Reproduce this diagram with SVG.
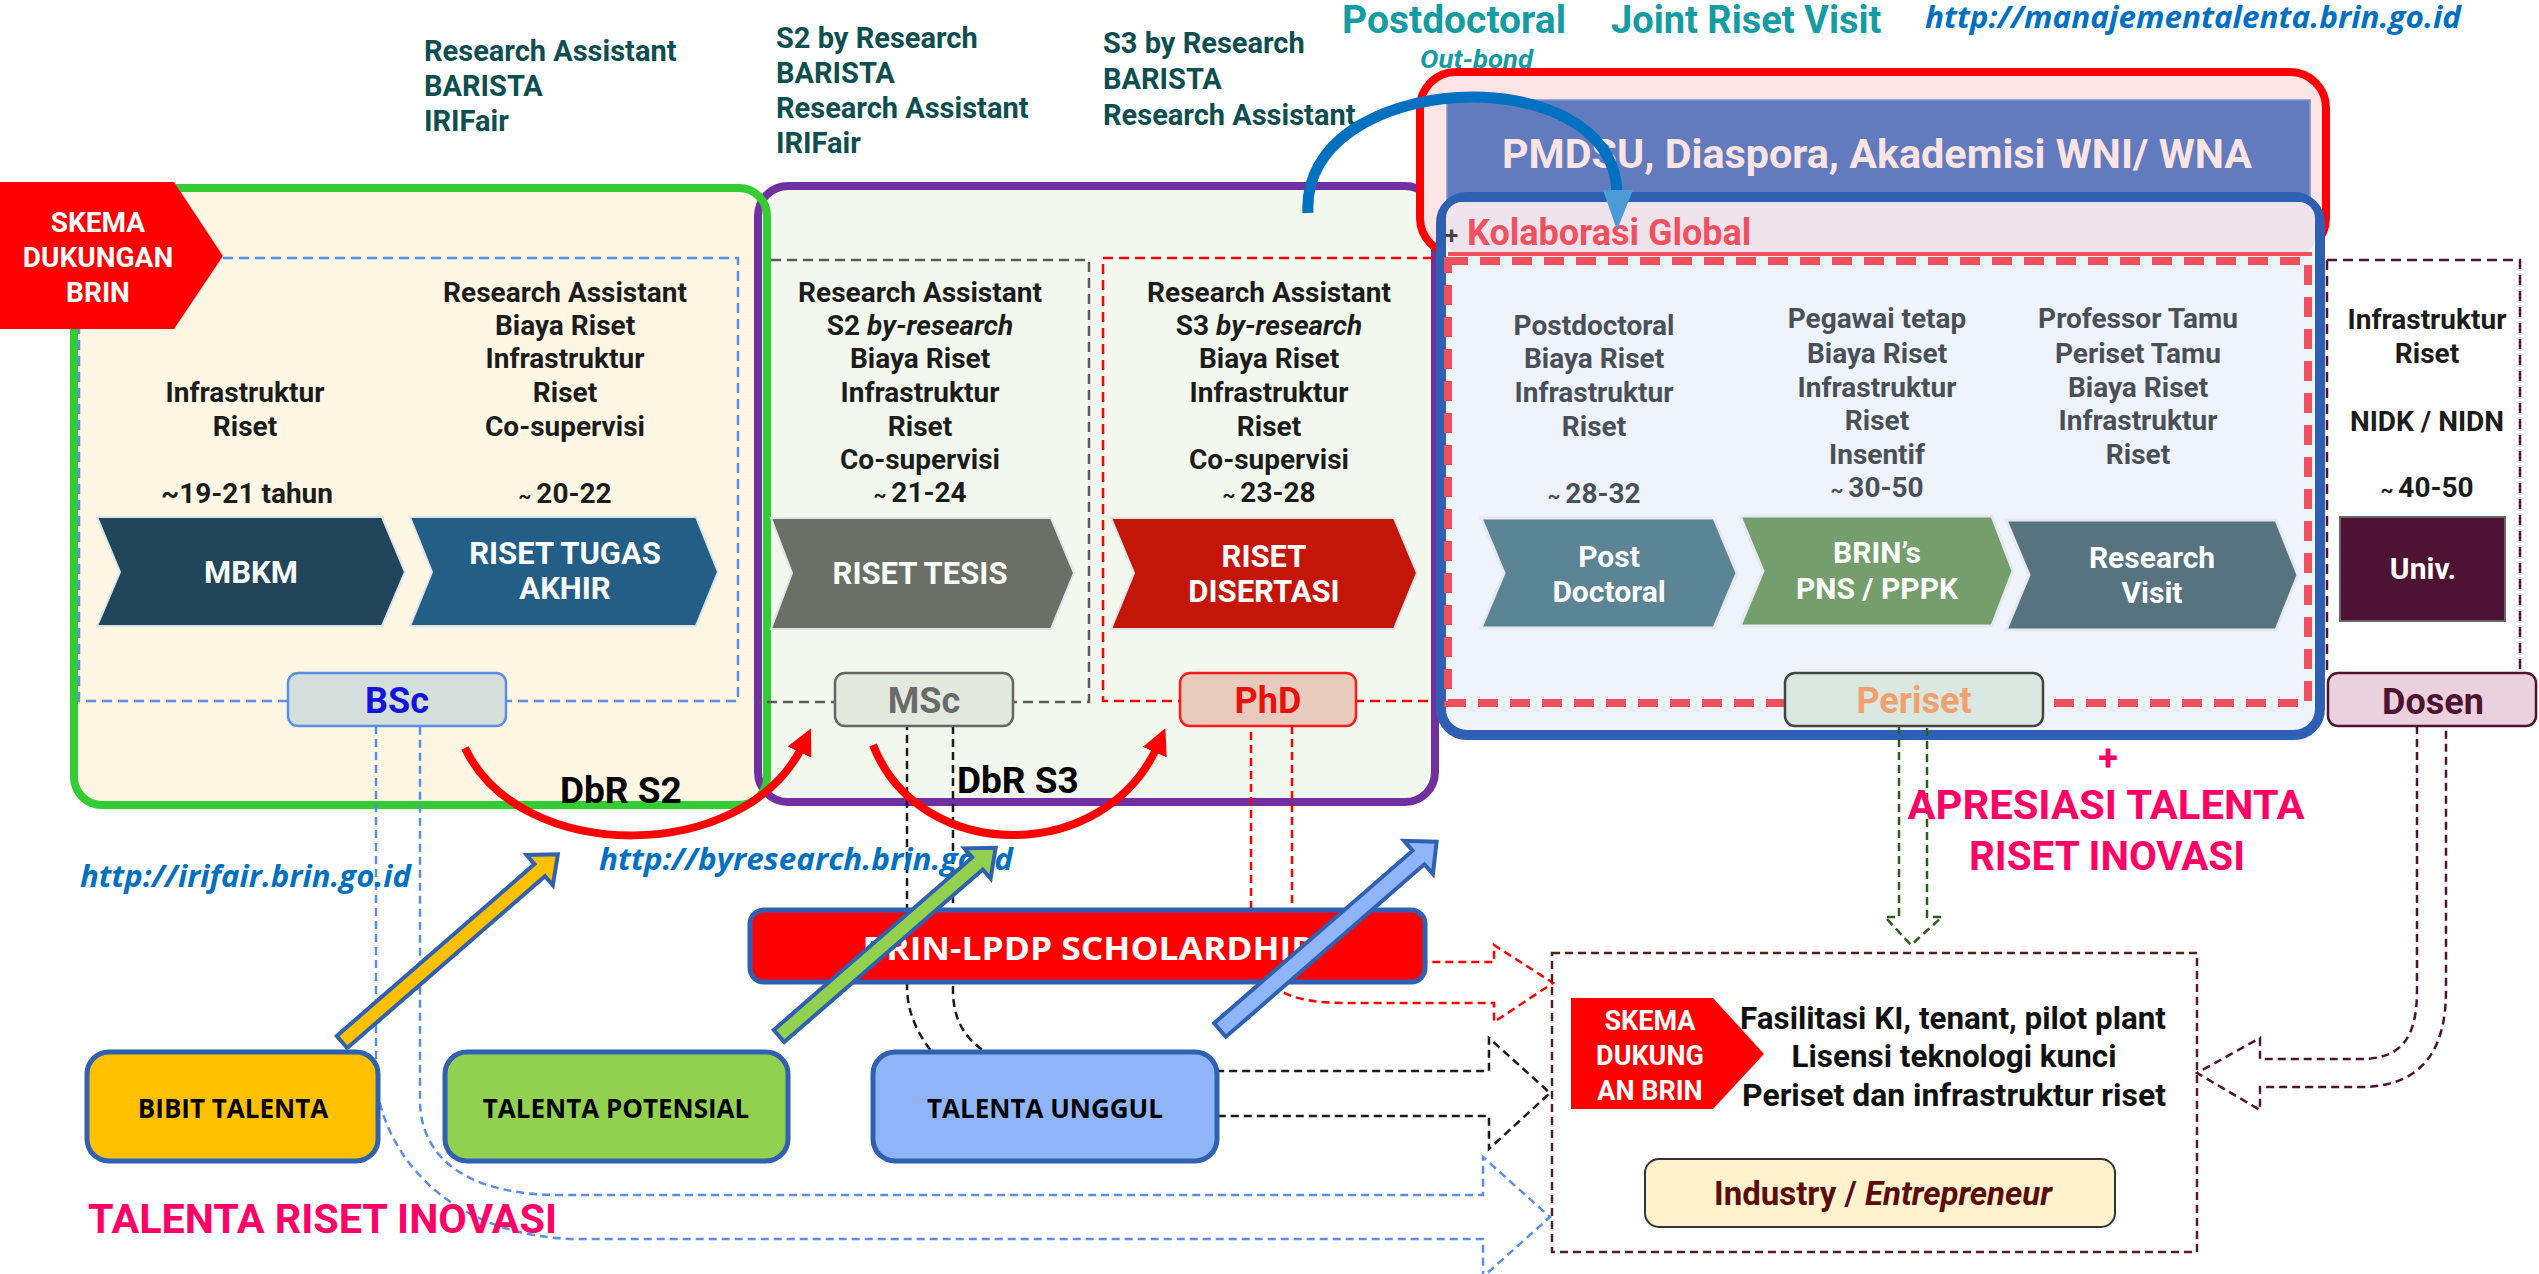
<svg xmlns="http://www.w3.org/2000/svg" width="2539" height="1274" viewBox="0 0 2539 1274">
<defs>
<style>
.t{font-family:Roboto,"Liberation Sans",sans-serif;font-weight:700}
.c{text-anchor:middle}
.k{fill:#1c1c1c;font-size:28px}
.g{fill:#4a5058;font-size:28px}
.teal{fill:#0d4e50;font-size:29px}
.w{fill:#ffffff}
.cv{font-size:31px}
.os{font-family:"Open Sans","Liberation Sans",sans-serif;font-weight:700}
.url{font-family:"Open Sans","Liberation Sans",sans-serif;font-weight:700;font-style:italic;fill:#0070c0}
.deg{font-size:36px}
.pink{fill:#ff0066;font-size:41px}
.dl{fill:none;stroke-width:2.5;stroke-dasharray:10 6}
.hd{fill:none;stroke-width:2.5;stroke-dasharray:8 5}
.talent{stroke:#3060b0;stroke-width:5}
.diag{stroke:#3060b0;stroke-width:4;stroke-linejoin:miter}
.chev{stroke:#dfe4ea;stroke-width:2}
.chev2{stroke:#e6eaf0;stroke-width:3}
</style>
<marker id="ah" viewBox="0 0 10 10" refX="3" refY="5" markerWidth="26" markerHeight="26" markerUnits="userSpaceOnUse" orient="auto">
<path d="M0,0 L10,5 L0,10 z" fill="#ff0000"/>
</marker>
</defs>
<rect width="2539" height="1274" fill="#ffffff"/>

<!-- containers -->
<g id="bsc-group">
<rect x="74" y="188" width="693" height="617" rx="28" fill="#fff6e4"/>
</g>
<g id="msc-group">
<rect x="758" y="186" width="677" height="616" rx="30" fill="#f3f8ee" stroke="#7030a0" stroke-width="8"/>
</g>
<g id="bsc-border">
<rect x="74" y="188" width="693" height="617" rx="28" fill="none" stroke="#33cc33" stroke-width="8"/>
</g>
<g id="pmdsu">
<rect x="1420" y="72" width="906" height="182" rx="36" fill="#fde5e5" stroke="#ff0000" stroke-width="8"/>
<rect x="1447" y="100" width="863" height="110" fill="#627bbf" stroke="#7d93d0" stroke-width="1.5"/>
<text class="t c" x="1877" y="168" font-size="40" fill="#fde4e4" textLength="750" lengthAdjust="spacingAndGlyphs">PMDSU, Diaspora, Akademisi WNI/ WNA</text>
</g>
<g id="periset-group">
<rect x="1441" y="197" width="879" height="538" rx="26" fill="#eef3fc" stroke="#2f5fb3" stroke-width="10"/>
<rect x="1446" y="202" width="869" height="52" rx="16" fill="#f0e4ec"/>
<line x1="1448" y1="254" x2="2312" y2="254" stroke="#f0505e" stroke-width="4"/>
<text class="t" x="1445" y="244" font-size="24" fill="#444">+</text>
<text class="t" x="1467" y="245" font-size="36" fill="#f0505f">Kolaborasi Global</text>
<rect x="1448" y="261" width="860" height="442" fill="none" stroke="#f0505e" stroke-width="8" stroke-dasharray="20 12"/>
</g>

<!-- inner dashed frames -->
<g id="frames">
<rect x="79" y="258" width="659" height="443" class="dl" stroke="#5b8ee6"/>
<path d="M771,260 H1089 V702 H759" class="dl" stroke="#5a5a5a"/>
<path d="M1433,258 H1103 V701 H1433" class="dl" stroke="#ff0000"/>
<path d="M2327,260 H2520 V673 M2327,260 V673" class="dl" stroke="#4e1232"/>
</g>

<!-- top labels -->
<g id="top-labels" class="t">
<text class="teal" x="424" y="61">Research Assistant</text>
<text class="teal" x="424" y="96">BARISTA</text>
<text class="teal" x="424" y="131">IRIFair</text>
<text class="teal" x="776" y="48">S2 by Research</text>
<text class="teal" x="776" y="83">BARISTA</text>
<text class="teal" x="776" y="118">Research Assistant</text>
<text class="teal" x="776" y="153">IRIFair</text>
<text class="teal" x="1103" y="53">S3 by Research</text>
<text class="teal" x="1103" y="89">BARISTA</text>
<text class="teal" x="1103" y="125">Research Assistant</text>
<text x="1342" y="33" font-size="39" fill="#159ca3">Postdoctoral</text>
<text x="1420" y="68" font-size="26" font-style="italic" fill="#159ca3" textLength="113" lengthAdjust="spacingAndGlyphs">Out-bond</text>
<text x="1611" y="33" font-size="38" fill="#159ca3">Joint Riset Visit</text>
</g>
<text class="url" x="1925" y="28" font-size="31" textLength="536" lengthAdjust="spacingAndGlyphs">http://manajementalenta.brin.go.id</text>

<!-- SKEMA left -->
<g id="skema-brin">
<polygon points="0,182 174,182 223,256 174,329 0,329" fill="#ff0000"/>
<text class="t c w" x="98" y="232" font-size="28">SKEMA</text>
<text class="t c w" x="98" y="267" font-size="28">DUKUNGAN</text>
<text class="t c w" x="98" y="302" font-size="28">BRIN</text>
</g>

<!-- column texts -->
<g id="col-mbkm" class="t c k">
<text x="245" y="402">Infrastruktur</text>
<text x="245" y="436">Riset</text>
<text x="247" y="503">~19-21 tahun</text>
</g>
<g id="col-rta" class="t c k">
<text x="565" y="302">Research Assistant</text>
<text x="565" y="335">Biaya Riset</text>
<text x="565" y="368">Infrastruktur</text>
<text x="565" y="402">Riset</text>
<text x="565" y="436">Co-supervisi</text>
<text x="565" y="503"><tspan font-size="20">~ </tspan>20-22</text>
</g>
<g id="col-tesis" class="t c k">
<text x="920" y="302">Research Assistant</text>
<text x="920" y="335">S2 <tspan font-style="italic">by-research</tspan></text>
<text x="920" y="368">Biaya Riset</text>
<text x="920" y="402">Infrastruktur</text>
<text x="920" y="436">Riset</text>
<text x="920" y="469">Co-supervisi</text>
<text x="920" y="502"><tspan font-size="20">~ </tspan>21-24</text>
</g>
<g id="col-disertasi" class="t c k">
<text x="1269" y="302">Research Assistant</text>
<text x="1269" y="335">S3 <tspan font-style="italic">by-research</tspan></text>
<text x="1269" y="368">Biaya Riset</text>
<text x="1269" y="402">Infrastruktur</text>
<text x="1269" y="436">Riset</text>
<text x="1269" y="469">Co-supervisi</text>
<text x="1269" y="502"><tspan font-size="20">~ </tspan>23-28</text>
</g>
<g id="col-postdoc" class="t c g">
<text x="1594" y="335">Postdoctoral</text>
<text x="1594" y="368">Biaya Riset</text>
<text x="1594" y="402">Infrastruktur</text>
<text x="1594" y="436">Riset</text>
<text x="1594" y="503"><tspan font-size="20">~ </tspan>28-32</text>
</g>
<g id="col-pns" class="t c g">
<text x="1877" y="328">Pegawai tetap</text>
<text x="1877" y="363">Biaya Riset</text>
<text x="1877" y="397">Infrastruktur</text>
<text x="1877" y="430">Riset</text>
<text x="1877" y="464">Insentif</text>
<text x="1877" y="497"><tspan font-size="20">~ </tspan>30-50</text>
</g>
<g id="col-visit" class="t c g">
<text x="2138" y="328">Professor Tamu</text>
<text x="2138" y="363">Periset Tamu</text>
<text x="2138" y="397">Biaya Riset</text>
<text x="2138" y="430">Infrastruktur</text>
<text x="2138" y="464">Riset</text>
</g>
<g id="col-univ" class="t c k">
<text x="2427" y="329">Infrastruktur</text>
<text x="2427" y="363">Riset</text>
<text x="2427" y="431">NIDK / NIDN</text>
<text x="2427" y="497"><tspan font-size="20">~ </tspan>40-50</text>
</g>

<!-- chevrons -->
<g id="mbkm">
<polygon class="chev" points="97,517 382,517 405,572 382,626 97,626 120,572" fill="#21455b"/>
<text class="t c w cv" x="251" y="583">MBKM</text>
</g>
<g id="riset-tugas-akhir">
<polygon class="chev" points="410,517 696,517 718,572 696,626 410,626 432,572" fill="#235e86"/>
<text class="t c w cv" x="565" y="564">RISET TUGAS</text>
<text class="t c w cv" x="565" y="599">AKHIR</text>
</g>
<g id="riset-tesis">
<polygon class="chev" points="771,518 1051,518 1074,573 1051,629 771,629 792,573" fill="#6a7065"/>
<text class="t c w cv" x="920" y="584">RISET TESIS</text>
</g>
<g id="riset-disertasi">
<polygon class="chev" points="1111,518 1394,518 1417,573 1394,629 1111,629 1134,573" fill="#c41509"/>
<text class="t c w cv" x="1264" y="567">RISET</text>
<text class="t c w cv" x="1264" y="602">DISERTASI</text>
</g>
<g id="post-doctoral">
<polygon class="chev2" points="1481,518 1714,518 1737,573 1714,628 1481,628 1504,573" fill="#5b8494"/>
<text class="t c w" font-size="30" x="1609" y="567">Post</text>
<text class="t c w" font-size="30" x="1609" y="602">Doctoral</text>
</g>
<g id="brin-pns">
<polygon class="chev2" points="1740,516 1992,516 2013,571 1992,626 1740,626 1763,571" fill="#749f6c"/>
<text class="t c w" font-size="30" x="1877" y="563">BRIN’s</text>
<text class="t c w" font-size="30" x="1877" y="599">PNS / PPPK</text>
</g>
<g id="research-visit">
<polygon class="chev2" points="2006,520 2276,520 2298,575 2276,630 2006,630 2029,575" fill="#56737f"/>
<text class="t c w" font-size="30" x="2152" y="568">Research</text>
<text class="t c w" font-size="30" x="2152" y="603">Visit</text>
</g>
<g id="univ">
<rect x="2340" y="517" width="165" height="104" fill="#4e1232" stroke="#666" stroke-width="2"/>
<text class="t c w" font-size="30" x="2423" y="579">Univ.</text>
</g>

<!-- connectors -->
<g id="connectors">
<path class="hd" stroke="#5b8ee6" d="M376,726 V1085 C390,1175 470,1239 580,1239 H1483 V1277 L1550,1217 L1483,1157 V1195 H560 C470,1195 420,1160 420,1100 V726"/>
<path class="hd" stroke="#1a1a1a" d="M953,726 V990 C953,1020 965,1040 990,1055 L1030,1071 H1489 V1038 L1550,1093 L1489,1149 V1116 H990 L932,1052 C915,1030 907,1010 907,985 V726"/>
<path class="hd" stroke="#ff0000" d="M1292,726 V930 C1292,955 1305,962 1330,962 H1494 V945 L1553,983 L1494,1022 V1003 H1345 C1290,1003 1251,990 1251,930 V726"/>
<path class="hd" stroke="#2e5d1e" d="M1899,726 V917 H1885 L1911,945 L1942,917 H1927 V726"/>
<path class="hd" stroke="#4e1232" d="M2417,726 V990 C2417,1040 2400,1059 2360,1059 H2260 V1038 L2197,1073 L2260,1110 V1087 H2360 C2430,1087 2446,1040 2446,990 V726"/>
</g>

<!-- degree boxes -->
<g id="bsc">
<rect x="288" y="673" width="218" height="53" rx="10" fill="#d4dedb" stroke="#5b8ee6" stroke-width="2.5"/>
<text class="t c deg" x="397" y="713" fill="#1414dc">BSc</text>
</g>
<g id="msc">
<rect x="835" y="673" width="178" height="53" rx="10" fill="#e4e9e0" stroke="#666" stroke-width="2.5"/>
<text class="t c deg" x="924" y="713" fill="#6a6a6a">MSc</text>
</g>
<g id="phd">
<rect x="1180" y="673" width="176" height="53" rx="10" fill="#e9cbbd" stroke="#ff1a1a" stroke-width="2.5"/>
<text class="t c deg" x="1268" y="713" fill="#e8120c">PhD</text>
</g>
<g id="periset">
<rect x="1785" y="673" width="258" height="53" rx="10" fill="#d9e8e0" stroke="#444" stroke-width="2.5"/>
<text class="t c deg" x="1914" y="713" fill="#f4a06e">Periset</text>
</g>
<g id="dosen">
<rect x="2328" y="673" width="208" height="53" rx="10" fill="#ead1dd" stroke="#4e1232" stroke-width="2.5"/>
<text class="t c deg" x="2433" y="714" fill="#4e1232">Dosen</text>
</g>

<!-- scholarship -->
<g id="scholarship">
<rect x="750" y="910" width="675" height="72" rx="14" fill="#ff0000" stroke="#3060b0" stroke-width="5"/>
<text class="os c w" x="1088" y="960" font-size="33" textLength="451" lengthAdjust="spacingAndGlyphs">BRIN-LPDP SCHOLARDHIP</text>
</g>

<!-- talents -->
<g id="bibit-talenta">
<rect class="talent" x="87" y="1052" width="291" height="109" rx="22" fill="#ffc000"/>
<text class="os c" x="233" y="1118" font-size="26" fill="#000">BIBIT TALENTA</text>
</g>
<g id="talenta-potensial">
<rect class="talent" x="445" y="1052" width="343" height="109" rx="22" fill="#92d050"/>
<text class="os c" x="616" y="1118" font-size="26" fill="#000">TALENTA POTENSIAL</text>
</g>
<g id="talenta-unggul">
<rect class="talent" x="873" y="1052" width="344" height="109" rx="22" fill="#8fb4f8"/>
<text class="os c" x="1045" y="1118" font-size="26" fill="#000">TALENTA UNGGUL</text>
</g>

<!-- industry -->
<g id="industry">
<rect x="1552" y="953" width="645" height="299" fill="none" stroke="#5a1e1e" stroke-width="2.5" stroke-dasharray="8 5"/>
<polygon points="1571,998 1713,998 1764,1054 1713,1109 1571,1109" fill="#ff0000"/>
<text class="t c w" x="1650" y="1030" font-size="27">SKEMA</text>
<text class="t c w" x="1650" y="1065" font-size="27">DUKUNG</text>
<text class="t c w" x="1650" y="1100" font-size="27">AN BRIN</text>
<text class="t c" x="1953" y="1029" font-size="31" fill="#111" textLength="426" lengthAdjust="spacingAndGlyphs">Fasilitasi KI, tenant, pilot plant</text>
<text class="t c" x="1954" y="1067" font-size="31" fill="#111" textLength="325" lengthAdjust="spacingAndGlyphs">Lisensi teknologi kunci</text>
<text class="t c" x="1954" y="1106" font-size="31" fill="#111" textLength="424" lengthAdjust="spacingAndGlyphs">Periset dan infrastruktur riset</text>
<rect x="1645" y="1159" width="470" height="68" rx="14" fill="#fff2cc" stroke="#333" stroke-width="2"/>
<text class="t c" x="1883" y="1205" font-size="33" fill="#5b0c0c">Industry / <tspan font-style="italic">Entrepreneur</tspan></text>
</g>

<!-- arcs and arrows -->
<g id="dbr-arrows" fill="none" stroke="#ff0000" stroke-width="8">
<path d="M465,748 C520,865 745,865 803,745" marker-end="url(#ah)"/>
<path d="M873,745 C920,865 1105,865 1158,745" marker-end="url(#ah)"/>
</g>
<text class="t" x="560" y="803" font-size="37" fill="#000">DbR S2</text>
<text class="t" x="957" y="793" font-size="37" fill="#000">DbR S3</text>

<g id="outbound-arrow">
<path d="M1308,213 C1300,70 1612,55 1617,192" fill="none" stroke="#0070c0" stroke-width="11"/>
<polygon points="1603,190 1633,190 1617,230" fill="#4b9bd7"/>
</g>

<text class="url" x="80" y="887" font-size="30" textLength="331" lengthAdjust="spacingAndGlyphs">http://irifair.brin.go.id</text>
<text class="url" x="599" y="870" font-size="30" textLength="414" lengthAdjust="spacingAndGlyphs">http://byresearch.brin.go.id</text>

<g id="diag-arrows">
<polygon class="diag" fill="#ffc000" points="0,-8 262,-8 262,-20 286,0 262,20 262,8 0,8" transform="translate(342,1042) rotate(-41)"/>
<polygon class="diag" fill="#92d050" points="0,-8 263,-8 263,-20 287,0 263,20 263,8 0,8" transform="translate(779,1036) rotate(-41)"/>
<polygon class="diag" fill="#8fb4f8" points="0,-9 263,-9 263,-22 287,0 263,22 263,9 0,9" transform="translate(1220,1030) rotate(-41)"/>
</g>

<g id="labels" class="t">
<text class="pink" x="88" y="1233" textLength="469" lengthAdjust="spacingAndGlyphs">TALENTA RISET INOVASI</text>
<text class="c" x="2108" y="770" font-size="36" fill="#ff0066">+</text>
<text class="pink c" x="2106" y="819" textLength="397" lengthAdjust="spacingAndGlyphs">APRESIASI TALENTA</text>
<text class="pink c" x="2107" y="870" textLength="276" lengthAdjust="spacingAndGlyphs">RISET INOVASI</text>
</g>
</svg>
